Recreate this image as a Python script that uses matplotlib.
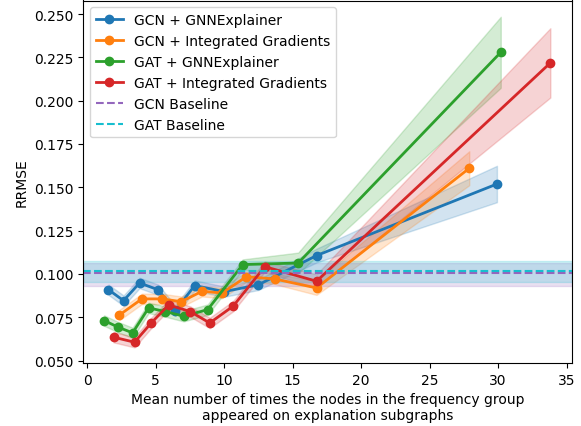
import numpy as np
import matplotlib
matplotlib.use("Agg")
import matplotlib.pyplot as plt

# GCN + GNNExplainer
gcn_gnn_x = [1.56, 2.66, 3.83, 5.17, 6.44, 7.85, 10.0, 12.49, 16.75, 29.92]
gcn_gnn_y = [0.0909, 0.0846, 0.0948, 0.0909, 0.0788, 0.0933, 0.0898, 0.0937, 0.1106, 0.1519]
gcn_gnn_s = [0.003, 0.003, 0.003, 0.003, 0.003, 0.003, 0.003, 0.003, 0.004, 0.0105]

# GCN + Integrated Gradients
gcn_ig_x = [2.36, 4.00, 5.46, 6.88, 8.39, 9.85, 11.63, 13.70, 16.75, 27.90]
gcn_ig_y = [0.0763, 0.0856, 0.0856, 0.0840, 0.0900, 0.0890, 0.0984, 0.0971, 0.0919, 0.1610]
gcn_ig_s = [0.003, 0.003, 0.003, 0.003, 0.003, 0.003, 0.003, 0.003, 0.004, 0.0098]

# GAT + GNNExplainer
gat_gnn_x = [1.24, 2.29, 3.32, 4.49, 5.71, 7.05, 8.80, 11.36, 15.41, 30.20]
gat_gnn_y = [0.0731, 0.0692, 0.0660, 0.0804, 0.0783, 0.0756, 0.0794, 0.1054, 0.1063, 0.2279]
gat_gnn_s = [0.003, 0.003, 0.003, 0.003, 0.003, 0.003, 0.003, 0.003, 0.006, 0.0205]

# GAT + Integrated Gradients
gat_ig_x = [1.93, 3.46, 4.68, 5.95, 7.53, 8.95, 10.66, 12.97, 16.75, 33.82]
gat_ig_y = [0.0635, 0.0606, 0.0717, 0.0821, 0.0783, 0.0717, 0.0814, 0.1042, 0.0958, 0.2218]
gat_ig_s = [0.003, 0.003, 0.003, 0.003, 0.003, 0.003, 0.003, 0.003, 0.004, 0.0200]

labels = ["GCN + GNNExplainer", "GCN + Integrated Gradients",
          "GAT + GNNExplainer", "GAT + Integrated Gradients"]
colors = ["tab:blue", "tab:orange", "tab:green", "tab:red"]

# Baselines: mean, band low, band high
gcn_base, gcn_base_lo, gcn_base_hi = 0.1005, 0.0933, 0.1062
gat_base, gat_base_lo, gat_base_hi = 0.1018, 0.0952, 0.1077

fig = plt.figure(figsize=(5.81, 4.27), dpi=100)
ax = fig.add_axes([83 / 581, (427 - 364) / 427, (572 - 83) / 581, (364 - 1.5) / 427])

series = [(gcn_gnn_x, gcn_gnn_y, gcn_gnn_s), (gcn_ig_x, gcn_ig_y, gcn_ig_s),
          (gat_gnn_x, gat_gnn_y, gat_gnn_s), (gat_ig_x, gat_ig_y, gat_ig_s)]
for (x, y, s), lab, c in zip(series, labels, colors):
    x = np.array(x); y = np.array(y); s = np.array(s)
    ax.plot(x, y, marker="o", color=c, lw=2, ms=6, label=lab)
    ax.fill_between(x, y - s, y + s, color=c, alpha=0.2, lw=1)

ax.axhline(gcn_base, color="tab:purple", ls="--", lw=1.5, label="GCN Baseline")
ax.axhspan(gcn_base_lo, gcn_base_hi, color="tab:purple", alpha=0.2, lw=1)
ax.axhline(gat_base, color="tab:cyan", ls="--", lw=1.5, label="GAT Baseline")
ax.axhspan(gat_base_lo, gat_base_hi, color="tab:cyan", alpha=0.2, lw=1)

ax.set_xlim(-0.3, 35.4)
ax.set_ylim(0.0486, 0.2578)
ax.set_yticks([0.050, 0.075, 0.100, 0.125, 0.150, 0.175, 0.200, 0.225, 0.250])
ax.set_xticks([0, 5, 10, 15, 20, 25, 30, 35])
ax.set_xlabel("Mean number of times the nodes in the frequency group\nappeared on explanation subgraphs")
ax.set_ylabel("RRMSE")
ax.legend(loc="upper left")

fig.savefig("out.png", dpi=100)
